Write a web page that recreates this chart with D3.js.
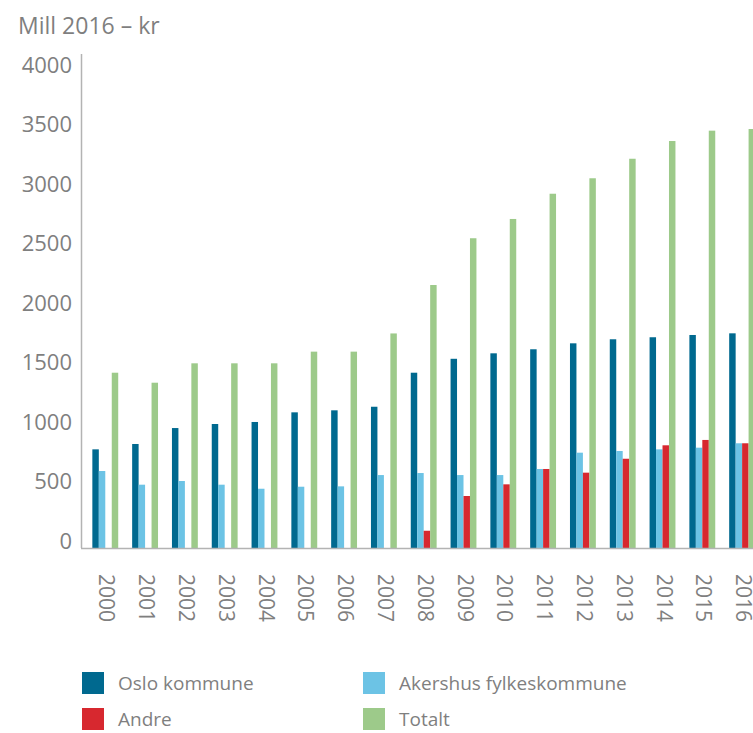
<!DOCTYPE html>
<html>
<head>
<meta charset="utf-8">
<script src="https://cdn.jsdelivr.net/npm/d3@7"></script>
<style>
  body { margin: 0; background: #fff; }
  svg { display: block; font-family: "Open Sans", sans-serif; }
</style>
</head>
<body>
<svg id="chart" width="753" height="733"></svg>
<script>
// values, mill 2016-kr
const years = ['2000','2001','2002','2003','2004','2005','2006','2007','2008','2009','2010','2011','2012','2013','2014','2015','2016'];
const oslo = [829, 874, 1008, 1042, 1059, 1140, 1157, 1187, 1473, 1590, 1636, 1670, 1720, 1754, 1771, 1790, 1804];
const akershus = [647, 532, 563, 532, 498, 515, 518, 613, 630, 613, 613, 664, 801, 815, 829, 843, 880];
const andre = [0, 0, 0, 0, 0, 0, 0, 0, 145, 437, 535, 664, 633, 750, 863, 908, 880];
const totalt = [1473, 1389, 1552, 1552, 1552, 1650, 1650, 1803, 2210, 2603, 2765, 2977, 3107, 3271, 3420, 3507, 3521];
const seriesNames = ['Oslo kommune', 'Akershus fylkeskommune', 'Andre', 'Totalt'];
const seriesColors = ['#00698f', '#6cc3e5', '#d7282f', '#9dca8a'];
const yTicks = [0, 500, 1000, 1500, 2000, 2500, 3000, 3500, 4000];

const svg = d3.select('#chart');
const textColor = '#7f7f7f';
const axisColor = '#b3b3b3';

const y = d3.scaleLinear().domain([0, 4000]).range([548, 72]);
const x = d3.scaleBand().domain(years).range([82, 765.4]).paddingInner(0.35).paddingOuter(0.26);
const xs = d3.scaleBand().domain(d3.range(4)).range([0, x.bandwidth()]);

const allSeries = [oslo, akershus, andre, totalt];

// bars, one group per year
years.forEach((yr, i) => {
    let g = svg.append('g').attr('transform', 'translate(' + x(yr) + ',0)');
    g.selectAll('rect').data(allSeries.map((s, k) => ({k: k, v: s[i]})).filter(d => d.v > 0))
        .enter().append('rect')
        .attr('x', d => xs(d.k))
        .attr('width', xs.bandwidth())
        .attr('y', d => y(d.v))
        .attr('height', d => y(0) - y(d.v))
        .attr('fill', d => seriesColors[d.k]);
});

// axis lines
svg.append('line').attr('x1', 81.5).attr('x2', 81.5).attr('y1', 54).attr('y2', y(0))
    .attr('stroke', axisColor).attr('stroke-width', 1.5);
svg.append('line').attr('x1', 81).attr('x2', 753).attr('y1', y(0) + 0.5).attr('y2', y(0) + 0.5)
    .attr('stroke', axisColor).attr('stroke-width', 1.5);

// y tick labels
svg.selectAll('.ytick').data(yTicks).enter().append('text')
    .attr('class', 'ytick')
    .attr('x', 72)
    .attr('y', d => y(d) - 7)
    .attr('dy', '0.35em')
    .attr('text-anchor', 'end')
    .attr('fill', textColor)
    .style('font-size', '22px')
    .text(d => d);

// x tick labels, rotated
svg.selectAll('.xtick').data(years).enter().append('text')
    .attr('class', 'xtick')
    .attr('transform', d => 'translate(' + (x(d) + x.bandwidth() / 2 + 1.5) + ',574) rotate(90)')
    .attr('dy', '0.35em')
    .attr('fill', textColor)
    .style('font-size', '21px')
    .text(d => d);

// unit title
svg.append('text').attr('x', 18).attr('y', 34)
    .attr('fill', textColor)
    .style('font-size', '23px')
    .text('Mill 2016 – kr');

// legend
const legendPos = [[82, 672], [363, 672], [82, 708], [363, 708]];
seriesNames.forEach((name, k) => {
    let lg = svg.append('g').attr('transform', 'translate(' + legendPos[k][0] + ',' + legendPos[k][1] + ')');
    lg.append('rect').attr('width', 22).attr('height', 22).attr('fill', seriesColors[k]);
    lg.append('text').attr('x', 36).attr('y', 11).attr('dy', '0.35em')
        .attr('fill', textColor)
        .style('font-size', '19px')
        .text(name);
});
</script>
</body>
</html>
